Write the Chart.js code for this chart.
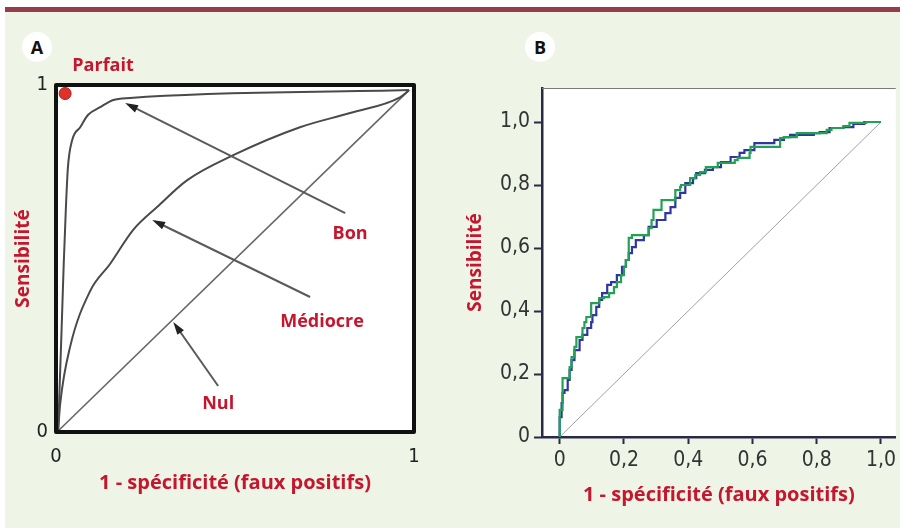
<!DOCTYPE html>
<html>
<head>
<meta charset="utf-8">
<script src="https://cdn.jsdelivr.net/npm/chart.js@4"></script>
<style>
  body { margin: 0; width: 900px; height: 528px; overflow: hidden; background: #fff; position: relative; }
  #bar { position: absolute; left: 5px; top: 7px; width: 895px; height: 5px; background: #943e4b; }
  #bg { position: absolute; left: 5px; top: 12px; width: 895px; height: 516px; background: #eef4e6; }
  canvas { position: absolute; top: 0; }
  .badge { position: absolute; width: 30px; height: 30px; border-radius: 50%; background: #fff;
           font: bold 18px "Open Sans", sans-serif; color: #111; text-align: center; line-height: 30px; }
</style>
</head>
<body>
<div id="bar"></div>
<div id="bg"></div>
<div class="badge" style="left:22px;top:32px">A</div>
<div class="badge" style="left:525px;top:32px">B</div>
<canvas id="chartA" width="450" height="528" style="left:0"></canvas>
<canvas id="chartB" width="450" height="528" style="left:450px"></canvas>
<script>
// ---- panel A : theoretical ROC curves
const bonX = [0, 0.01, 0.016, 0.022, 0.028, 0.04, 0.063, 0.085, 0.12, 0.157, 0.205, 1];
const bonY = [0, 0.30, 0.49, 0.65, 0.774, 0.853, 0.891, 0.927, 0.95, 0.971, 0.977, 1];
const mediocreX = [0, 0.006, 0.034, 0.091, 0.148, 0.214, 0.282, 0.368, 0.499, 0.689, 0.832, 0.974, 1];
const mediocreY = [0, 0.08, 0.246, 0.41, 0.49, 0.59, 0.657, 0.736, 0.809, 0.891, 0.933, 0.979, 1];
const nulX = [0, 1];
const nulY = [0, 1];
const parfait = { x: 0.02, y: 0.99 };
const ticksA = ['0', '1'];
// arrows: [tailX, tailY, headX, headY]
const arrowsA = [
  [0.818, 0.639, 0.191, 0.962],
  [0.718, 0.393, 0.268, 0.619],
  [0.456, 0.132, 0.328, 0.32]
];
const labelsA = [
  { text: 'Bon', x: 0.832, y: 0.578 },
  { text: 'Médiocre', x: 0.752, y: 0.32 },
  { text: 'Nul', x: 0.456, y: 0.079 },
  { text: 'Parfait', x: 0.128, y: 1.07 }
];

// ---- panel B : two empirical ROC curves
const greenX = [0, 0.009, 0.015, 0.031, 0.037, 0.046, 0.052, 0.071, 0.077, 0.083, 0.098, 0.123, 0.138, 0.154, 0.169,
  0.178, 0.191, 0.2, 0.206, 0.215, 0.225, 0.237, 0.277, 0.286, 0.292, 0.317, 0.338, 0.36, 0.375, 0.378, 0.406, 0.422,
  0.437, 0.455, 0.492, 0.508, 0.545, 0.554, 0.591, 0.594, 0.625, 0.686, 0.698, 0.738, 0.791, 0.831, 0.846, 0.883,
  0.902, 0.954, 1];
const greenY = [0, 0.086, 0.187, 0.187, 0.222, 0.254, 0.286, 0.317, 0.346, 0.365, 0.381, 0.425, 0.441, 0.444, 0.457,
  0.476, 0.492, 0.514, 0.54, 0.562, 0.632, 0.641, 0.641, 0.663, 0.689, 0.721, 0.752, 0.752, 0.784, 0.794, 0.8, 0.822,
  0.832, 0.841, 0.857, 0.87, 0.87, 0.879, 0.886, 0.902, 0.921, 0.921, 0.949, 0.952, 0.965, 0.965, 0.975, 0.981,
  0.987, 0.997, 1];
const blueX = [0, 0.006, 0.009, 0.015, 0.025, 0.031, 0.037, 0.046, 0.062, 0.071, 0.086, 0.098, 0.102, 0.114, 0.123,
  0.132, 0.148, 0.16, 0.178, 0.194, 0.206, 0.215, 0.225, 0.237, 0.262, 0.277, 0.302, 0.329, 0.345, 0.36, 0.375, 0.391,
  0.415, 0.425, 0.452, 0.477, 0.502, 0.532, 0.56, 0.575, 0.606, 0.615, 0.668, 0.698, 0.717, 0.791, 0.809, 0.84, 0.883,
  0.914, 0.948, 0.96, 1];
const blueY = [0, 0.063, 0.108, 0.14, 0.149, 0.181, 0.213, 0.244, 0.276, 0.308, 0.324, 0.346, 0.365, 0.387, 0.413,
  0.435, 0.457, 0.483, 0.492, 0.514, 0.54, 0.562, 0.584, 0.603, 0.625, 0.641, 0.667, 0.689, 0.711, 0.73, 0.759, 0.775,
  0.806, 0.822, 0.838, 0.848, 0.857, 0.873, 0.889, 0.902, 0.911, 0.933, 0.933, 0.943, 0.952, 0.959, 0.965, 0.968,
  0.981, 0.984, 0.994, 1, 1];
const tickValuesB = [0, 0.2, 0.4, 0.6, 0.8, 1];
const tickLabelsB = ['0', '0,2', '0,4', '0,6', '0,8', '1,0'];

const red = '#c5162e';
const xTitleFont = { family: 'Open Sans', weight: 'bold', size: 20 };
const yTitleFont = { family: 'Open Sans', weight: 'bold', size: 19 };
const tickFont = { family: 'DejaVu Sans Condensed', size: 20 };
const pts = (xs, ys) => xs.map((x, i) => ({ x: x, y: ys[i] }));

const whiteArea = {
  id: 'whiteArea',
  beforeDraw(chart) {
    const a = chart.chartArea, ctx = chart.ctx;
    ctx.save();
    ctx.fillStyle = '#fff';
    ctx.fillRect(a.left, a.top, a.right - a.left, a.bottom - a.top);
    ctx.restore();
  }
};

const decorA = {
  id: 'decorA',
  afterDraw(chart) {
    const ctx = chart.ctx, a = chart.chartArea;
    const sx = chart.scales.x, sy = chart.scales.y;
    ctx.save();
    ctx.lineWidth = 4;
    ctx.strokeStyle = '#111';
    ctx.lineJoin = 'round';
    ctx.strokeRect(a.left, a.top, a.right - a.left, a.bottom - a.top);
    // arrows
    ctx.strokeStyle = '#5a5a5a';
    ctx.fillStyle = '#222';
    ctx.lineWidth = 2;
    arrowsA.forEach(ar => {
      const x1 = sx.getPixelForValue(ar[0]), y1 = sy.getPixelForValue(ar[1]);
      const x2 = sx.getPixelForValue(ar[2]), y2 = sy.getPixelForValue(ar[3]);
      const ang = Math.atan2(y2 - y1, x2 - x1);
      ctx.beginPath();
      ctx.moveTo(x1, y1);
      ctx.lineTo(x2 - 8 * Math.cos(ang), y2 - 8 * Math.sin(ang));
      ctx.stroke();
      ctx.beginPath();
      ctx.moveTo(x2, y2);
      ctx.lineTo(x2 - 13 * Math.cos(ang) + 4 * Math.sin(ang), y2 - 13 * Math.sin(ang) - 4 * Math.cos(ang));
      ctx.lineTo(x2 - 13 * Math.cos(ang) - 4 * Math.sin(ang), y2 - 13 * Math.sin(ang) + 4 * Math.cos(ang));
      ctx.closePath();
      ctx.fill();
    });
    ctx.fillStyle = red;
    ctx.font = 'bold 18px "Open Sans"';
    ctx.textAlign = 'center';
    ctx.textBaseline = 'middle';
    labelsA.forEach(l => ctx.fillText(l.text, sx.getPixelForValue(l.x), sy.getPixelForValue(l.y)));
    ctx.restore();
  }
};

new Chart(document.getElementById('chartA'), {
  type: 'line',
  data: {
    datasets: [
      { data: pts(bonX, bonY), borderColor: '#4a4a4a', borderWidth: 2, pointRadius: 0, cubicInterpolationMode: 'monotone' },
      { data: pts(mediocreX, mediocreY), borderColor: '#4a4a4a', borderWidth: 2, pointRadius: 0, cubicInterpolationMode: 'monotone' },
      { data: pts(nulX, nulY), borderColor: '#666', borderWidth: 1.6, pointRadius: 0 },
      { data: [parfait], showLine: false, pointRadius: 6, pointBackgroundColor: '#e0302a', pointBorderColor: '#b01e1e', pointBorderWidth: 1 }
    ]
  },
  options: {
    responsive: false, animation: false, devicePixelRatio: 1,
    layout: { padding: { left: 12, right: 36, top: 85, bottom: 33 } },
    plugins: { legend: { display: false }, tooltip: { enabled: false } },
    scales: {
      x: {
        type: 'linear', min: -0.006, max: 1.014,
        afterBuildTicks: s => { s.ticks = [{ value: s.min }, { value: s.max }]; },
        afterFit: s => { s.height = 63; },
        grid: { display: false, drawTicks: false }, border: { display: false },
        ticks: { padding: 13, font: tickFont, color: '#222', callback: (v, i) => ticksA[i] },
        title: { display: true, text: '1 - spécificité (faux positifs)', color: red, font: xTitleFont, padding: 0 }
      },
      y: {
        type: 'linear', min: -0.003, max: 1.015,
        afterBuildTicks: s => { s.ticks = [{ value: s.min }, { value: s.max }]; },
        afterFit: s => { s.width = 44; },
        grid: { display: false, drawTicks: false }, border: { display: false },
        ticks: { padding: 8, font: tickFont, color: '#222', callback: (v, i) => ticksA[i] },
        title: { display: true, text: 'Sensibilité', color: red, font: yTitleFont, padding: 0 }
      }
    }
  },
  plugins: [whiteArea, decorA]
});

const topLineB = {
  id: 'topLineB',
  afterDraw(chart) {
    const a = chart.chartArea, ctx = chart.ctx;
    ctx.save();
    ctx.strokeStyle = '#7a7a80';
    ctx.lineWidth = 1;
    ctx.beginPath();
    ctx.moveTo(a.left, a.top + 0.5);
    ctx.lineTo(a.right, a.top + 0.5);
    ctx.stroke();
    ctx.restore();
  }
};

new Chart(document.getElementById('chartB'), {
  type: 'line',
  data: {
    datasets: [
      { data: pts(greenX, greenY), borderColor: '#24a055', borderWidth: 2.2, pointRadius: 0, stepped: 'after' },
      { data: pts(blueX, blueY), borderColor: '#2e36a0', borderWidth: 2.2, pointRadius: 0, stepped: 'after' },
      { data: pts(nulX, nulY), borderColor: '#a0a0a8', borderWidth: 1, pointRadius: 0 }
    ]
  },
  options: {
    responsive: false, animation: false, devicePixelRatio: 1,
    layout: { padding: { left: 14, right: 0, top: 88, bottom: 21 } },
    plugins: { legend: { display: false }, tooltip: { enabled: false } },
    scales: {
      x: {
        type: 'linear', min: -0.055, max: 1.046,
        afterBuildTicks: s => { s.ticks = tickValuesB.map(v => ({ value: v })); },
        afterFit: s => { s.height = 70; },
        grid: { drawOnChartArea: false, drawTicks: true, tickLength: 7, tickWidth: 2, tickColor: '#2a2a48' },
        border: { display: true, width: 2.5, color: '#2a2a48' },
        ticks: { padding: 4, font: { family: 'DejaVu Sans Condensed', size: 21 }, color: '#333', callback: (v, i) => tickLabelsB[i] },
        title: { display: true, text: '1 - spécificité (faux positifs)', color: red, font: xTitleFont, padding: 0 }
      },
      y: {
        type: 'linear', min: 0, max: 1.108,
        afterBuildTicks: s => { s.ticks = tickValuesB.map(v => ({ value: v })); },
        afterFit: s => { s.width = 78; },
        grid: { drawOnChartArea: false, drawTicks: true, tickLength: 8, tickWidth: 2, tickColor: '#2a2a48' },
        border: { display: true, width: 2.5, color: '#2a2a48' },
        ticks: { padding: 4, font: { family: 'DejaVu Sans Condensed', size: 21 }, color: '#333', callback: (v, i) => tickLabelsB[i] },
        title: { display: true, text: 'Sensibilité', color: red, font: yTitleFont, padding: 0 }
      }
    }
  },
  plugins: [whiteArea, topLineB]
});
</script>
</body>
</html>
